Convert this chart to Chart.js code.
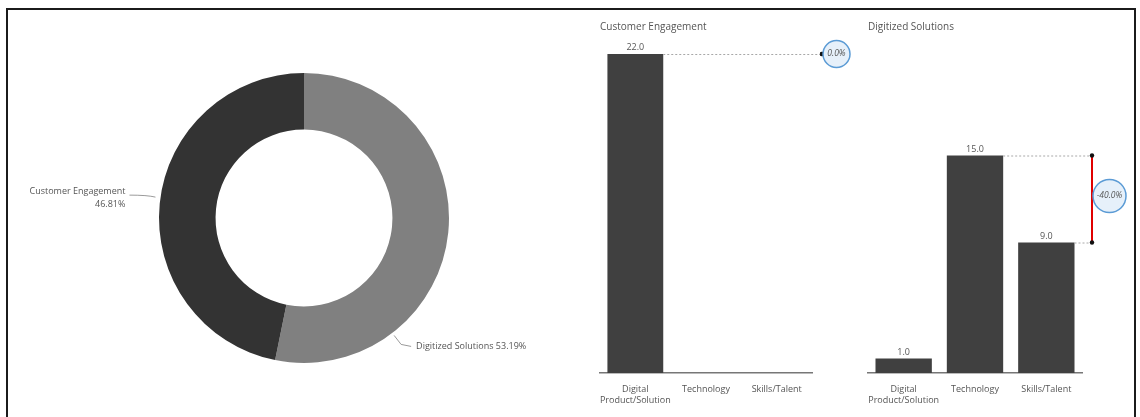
<!DOCTYPE html>
<html>
<head>
<meta charset="utf-8">
<script src="https://cdn.jsdelivr.net/npm/chart.js@4/dist/chart.umd.min.js"></script>
<style>
  html, body { margin: 0; padding: 0; background: #fff; width: 1140px; height: 417px; overflow: hidden; }
  .frame { position: absolute; left: 6px; top: 8px; width: 1130px; height: 430px; border: 2px solid #1b1b1b; box-sizing: border-box; }
  canvas { position: absolute; }
  #share { left: 0; top: 0; }
  #ce { left: 590px; top: 10px; }
  #ds { left: 860px; top: 10px; }
</style>
</head>
<body>
<div class="frame"></div>
<canvas id="share" width="610" height="417"></canvas>
<canvas id="ce" width="280" height="407"></canvas>
<canvas id="ds" width="280" height="407"></canvas>
<script>
// Categories and values per area
const areas = ['Digitized Solutions', 'Customer Engagement'];
const categories = [['Digital', 'Product/Solution'], 'Technology', 'Skills/Talent'];
const customerEngagement = [22, 0, 0];
const digitizedSolutions = [1, 15, 9];
// Which two categories each comparison marker connects (from, to)
const customerEngagementCompare = [0, 0];
const digitizedSolutionsCompare = [1, 2];

const sum = arr => arr.reduce((a, b) => a + b, 0);
const areaTotals = [sum(digitizedSolutions), sum(customerEngagement)];

Chart.defaults.font.family = '"Segoe UI", "Open Sans", "Noto Sans", sans-serif';
Chart.defaults.color = '#555';

const TEXT = '#555';

// Outside labels with leader lines for the doughnut
const shareLabels = {
  id: 'shareLabels',
  afterDraw(chart) {
    const { ctx } = chart;
    const meta = chart.getDatasetMeta(0);
    const arc = meta.data[0];
    const cx = arc.x, cy = arc.y, r = arc.outerRadius;
    const total = sum(chart.data.datasets[0].data);
    const pct = i => (chart.data.datasets[0].data[i] / total * 100).toFixed(2) + '%';
    const pt = (deg, rad) => {
      const a = deg * Math.PI / 180;
      return { x: cx + rad * Math.sin(a), y: cy - rad * Math.cos(a) };
    };
    ctx.save();
    ctx.strokeStyle = '#9a9a9a';
    ctx.lineWidth = 1;
    ctx.fillStyle = TEXT;
    ctx.font = '9px ' + Chart.defaults.font.family;

    // Customer Engagement (left side)
    let p = pt(278, r + 5);
    ctx.beginPath();
    ctx.moveTo(p.x, p.y);
    ctx.quadraticCurveTo(p.x - 8, p.y - 2, p.x - 26, p.y - 2);
    ctx.stroke();
    ctx.textAlign = 'right';
    ctx.textBaseline = 'middle';
    ctx.fillText(chart.data.labels[1], p.x - 30, p.y - 6);
    ctx.fillText(pct(1), p.x - 30, p.y + 7);

    // Digitized Solutions (lower right)
    p = pt(142.5, r + 3);
    ctx.beginPath();
    ctx.moveTo(p.x, p.y);
    ctx.lineTo(p.x + 7, p.y + 9);
    ctx.lineTo(p.x + 17, p.y + 11);
    ctx.stroke();
    ctx.textAlign = 'left';
    ctx.fillText(chart.data.labels[0] + ' ' + pct(0), p.x + 22, p.y + 11);
    ctx.restore();
  }
};

new Chart(document.getElementById('share'), {
  type: 'doughnut',
  data: {
    labels: areas,
    datasets: [{
      data: areaTotals,
      backgroundColor: ['#808080', '#333333'],
      borderWidth: 0
    }]
  },
  options: {
    responsive: false,
    animation: false,
    devicePixelRatio: 1,
    cutout: '61%',
    layout: { padding: { left: 159, right: 161, top: 73, bottom: 54 } },
    plugins: { legend: { display: false }, tooltip: { enabled: false } }
  },
  plugins: [shareLabels]
});

// Value labels on bars plus the change marker between two categories
const compareMarker = {
  id: 'compareMarker',
  afterDatasetsDraw(chart, args, opts) {
    const { ctx, chartArea } = chart;
    const yScale = chart.scales.y;
    const data = chart.data.datasets[0].data;
    const bars = chart.getDatasetMeta(0).data;
    ctx.save();
    ctx.font = '9px ' + Chart.defaults.font.family;
    ctx.fillStyle = TEXT;
    ctx.textAlign = 'center';
    ctx.textBaseline = 'bottom';
    bars.forEach((bar, i) => {
      if (data[i] > 0) ctx.fillText(data[i].toFixed(1), bar.x, bar.y - 2);
    });

    const [a, b] = opts.pair;
    const ya = yScale.getPixelForValue(data[a]);
    const yb = yScale.getPixelForValue(data[b]);
    const xLine = chartArea.right + 10;
    const edge = i => bars[i].x + bars[i].width / 2;

    ctx.strokeStyle = '#a8a8a8';
    ctx.lineWidth = 1;
    ctx.setLineDash([2, 2]);
    ctx.beginPath();
    ctx.moveTo(edge(a), ya + 0.5); ctx.lineTo(xLine, ya + 0.5);
    if (b !== a) { ctx.moveTo(edge(b), yb + 0.5); ctx.lineTo(xLine, yb + 0.5); }
    ctx.stroke();
    ctx.setLineDash([]);

    if (ya !== yb) {
      ctx.strokeStyle = '#e00000';
      ctx.lineWidth = 2;
      ctx.beginPath();
      ctx.moveTo(xLine, ya); ctx.lineTo(xLine, yb);
      ctx.stroke();
    }
    ctx.fillStyle = '#111';
    [ya, yb].forEach(y => { ctx.beginPath(); ctx.arc(xLine, y, 2.2, 0, Math.PI * 2); ctx.fill(); });

    const change = (data[b] - data[a]) / data[a] * 100;
    const rad = ya !== yb ? 16.5 : 13.5;
    const bx = xLine + rad + 1, by = (ya + yb) / 2 - (ya !== yb ? 3 : 0);
    ctx.beginPath();
    ctx.arc(bx, by, rad, 0, Math.PI * 2);
    ctx.fillStyle = '#e6f0fa';
    ctx.fill();
    ctx.strokeStyle = '#5b9bd5';
    ctx.lineWidth = 1.5;
    ctx.stroke();
    ctx.fillStyle = TEXT;
    ctx.font = 'italic 8.5px ' + Chart.defaults.font.family;
    ctx.textAlign = 'center';
    ctx.textBaseline = 'middle';
    ctx.fillText(change.toFixed(1) + '%', bx, by);
    ctx.restore();
  }
};

function barChart(id, title, values, pair, padLeft, padRight) {
  return new Chart(document.getElementById(id), {
    type: 'bar',
    data: {
      labels: categories,
      datasets: [{
        data: values,
        backgroundColor: '#404040',
        barPercentage: 0.79,
        categoryPercentage: 1
      }]
    },
    options: {
      responsive: false,
      animation: false,
      devicePixelRatio: 1,
      layout: { padding: { left: padLeft, right: padRight, top: 0, bottom: 0 } },
      scales: {
        x: {
          grid: { display: false },
          border: { display: true, color: '#777', width: 1.5 },
          ticks: { color: TEXT, font: { size: 9 }, padding: 3, maxRotation: 0, autoSkip: false },
          afterFit(scale) { scale.height = 44; }
        },
        y: { display: false, min: 0, max: 22 }
      },
      plugins: {
        legend: { display: false },
        tooltip: { enabled: false },
        title: {
          display: true,
          text: title,
          align: 'start',
          color: TEXT,
          font: { size: 10, weight: 'normal' },
          padding: { top: 11, bottom: 21 }
        },
        compareMarker: { pair }
      }
    },
    plugins: [compareMarker]
  });
}

barChart('ce', 'Customer Engagement', customerEngagement, customerEngagementCompare, 10, 58);
barChart('ds', 'Digitized Solutions', digitizedSolutions, digitizedSolutionsCompare, 8, 58);
</script>
</body>
</html>
